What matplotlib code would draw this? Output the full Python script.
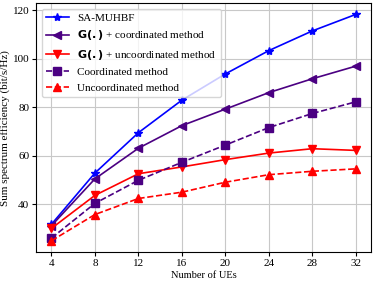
import numpy as np
import matplotlib
matplotlib.use('Agg')
import matplotlib.pyplot as plt

plt.rcParams['font.family'] = ['Liberation Serif', 'DejaVu Serif']
plt.rcParams['mathtext.fontset'] = 'dejavusans'

# data
num_ues = [4, 8, 12, 16, 20, 24, 28, 32]
sa_muhbf = [31.8, 52.9, 69.5, 82.9, 93.7, 103.3, 111.4, 118.2]
g_coord = [31.2, 50.5, 63.1, 72.4, 79.2, 86.0, 91.7, 96.9]
g_uncoord = [30.1, 43.7, 52.6, 55.4, 58.4, 61.1, 62.9, 62.2]
coord = [26.1, 40.4, 49.9, 57.3, 64.4, 71.6, 77.4, 82.2]
uncoord = [25.0, 35.8, 42.4, 45.0, 49.1, 52.2, 53.6, 54.6]

fig = plt.figure(figsize=(3.74, 2.81), dpi=100)
ax = fig.add_axes([0.097, 0.103, 0.895, 0.886])

ax.plot(num_ues, sa_muhbf, '-*', color='blue', lw=1.2, ms=6, label='SA-MUHBF')
ax.plot(num_ues, g_coord, '-<', color='indigo', lw=1.2, ms=6,
        label=r'$\mathbf{G(.)}$ + coordinated method')
ax.plot(num_ues, g_uncoord, '-v', color='red', lw=1.2, ms=6,
        label=r'$\mathbf{G(.)}$ + uncoordinated method')
ax.plot(num_ues, coord, '--s', color='indigo', lw=1.2, ms=5.5, label='Coordinated method')
ax.plot(num_ues, uncoord, '--^', color='red', lw=1.2, ms=6, label='Uncoordinated method')

ax.set_xticks(num_ues)
ax.set_yticks([40, 60, 80, 100, 120])
ax.tick_params(labelsize=8, length=3, pad=2)
ax.set_xlabel('Number of UEs', fontsize=7.5, labelpad=2)
ax.set_ylabel('Sum spectrum efficiency (bit/s/Hz)', fontsize=8, labelpad=2)
ax.grid(True, color='#c8c8c8')
ax.legend(loc='upper left', fontsize=8)

fig.savefig('out.png', dpi=100)
